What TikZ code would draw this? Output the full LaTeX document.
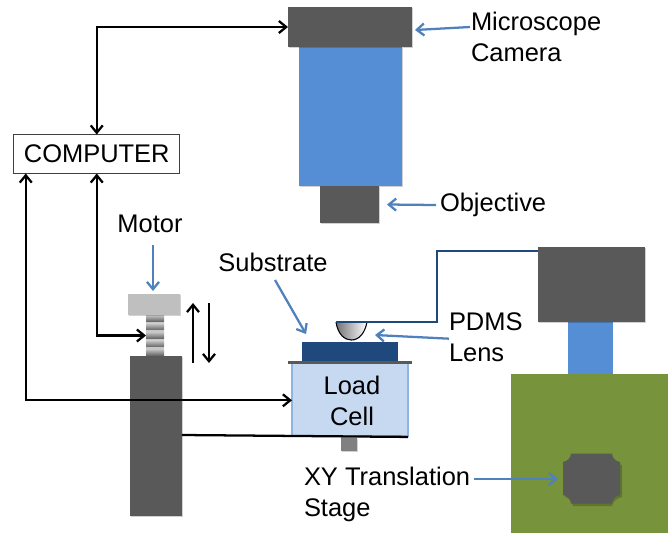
\documentclass[tikz,border=0pt]{standalone}
\usepackage{fontspec}
\setmainfont{Liberation Sans}
\usetikzlibrary{arrows.meta,shadows}
\definecolor{darkg}{HTML}{595959}
\definecolor{bluefill}{HTML}{558ED5}
\definecolor{arrowblue}{HTML}{4F81BD}
\definecolor{navy}{HTML}{1F497D}
\definecolor{cellfill}{HTML}{C6D9F1}
\definecolor{cellline}{HTML}{8EB4E3}
\definecolor{greenfill}{HTML}{77933C}
\tikzset{
  x=0.75pt,y=-0.75pt,
  softsh/.style={general shadow={fill=black,opacity=.18,shadow xshift=.8pt,shadow yshift=-.8pt}},
  part/.style={inner sep=0pt,outer sep=0pt,rectangle},
  lab/.style={inner sep=0pt,outer sep=0pt,font=\fontsize{19.1}{23}\selectfont,align=left,text=black},
  blk/.style={line width=1.7pt,draw=black,{Straight Barb[length=5.5pt,width=9pt]}-{Straight Barb[length=5.5pt,width=9pt]}},
  blkone/.style={line width=1.7pt,draw=black,-{Straight Barb[length=5.5pt,width=9pt]}},
  blu/.style={line width=1.7pt,draw=arrowblue,-{Straight Barb[length=5.5pt,width=9pt]}},
}
\newcommand{\rnode}[6]{\node[part,minimum width={(#4-#2)*0.75pt},minimum height={(#5-#3)*0.75pt},#6] (#1) at ({(#2+#4)/2},{(#3+#5)/2}) {};}
\begin{document}
\begin{tikzpicture}
\useasboundingbox (0,0) rectangle (668,533);
% top microscope
\rnode{tube}{299}{47}{402}{186}{fill=bluefill,softsh}
\rnode{cam}{288}{7}{412}{47}{fill=darkg,softsh}
\rnode{obj}{320}{186}{379}{223}{fill=darkg,softsh}
% computer
\node[part,draw=black!75,line width=.8pt,fill=white,minimum width={166*0.75pt},minimum height={39*0.75pt},font=\fontsize{19.1}{23}\selectfont] (computer) at (96.75,154) {\raisebox{-2pt}{COMPUTER}};
% motor
\rnode{screw}{146}{315}{164}{356}{fill=black!22}
\foreach \yy in {315,323.5,332,340.5,349}{
  \shade[top color=black!22,bottom color=black!58] (146,\yy) rectangle (164,\yy+6);
}
\rnode{head}{128}{294}{180}{315}{fill=black!25,softsh}
\rnode{post}{130}{356}{182}{516}{fill=darkg,softsh}
% right side
\rnode{rneck}{568}{322}{613}{374}{fill=bluefill}
\rnode{rblock}{538}{247}{645}{322}{fill=darkg,softsh}
\rnode{stage}{511}{374}{668}{533}{fill=greenfill}
\node[part,minimum width={57*0.75pt},minimum height={50*0.75pt}] (octa) at (591.5,478.5) {};
\fill[black,opacity=.2] (573,456) -- (612,456) .. controls (613,461) and (617,464) .. (622,465) -- (622,497) .. controls (617,498) and (613,501) .. (612,506) -- (573,506) .. controls (572,501) and (569,498) .. (565,497) -- (565,465) .. controls (569,464) and (572,461) .. (573,456) -- cycle;
\fill[darkg] (571,453.5) -- (612,453.5) .. controls (612.5,458) and (615,461) .. (620,462) -- (620,495) .. controls (615,496) and (612.5,499) .. (612,503.5) -- (571,503.5) .. controls (570.5,499) and (568,496) .. (563,495) -- (563,462) .. controls (568,461) and (570.5,458) .. (571,453.5) -- cycle;
% load cell
\rnode{cell}{292}{363}{408}{436}{fill=cellfill,draw=cellline,line width=1pt}
\node[lab,align=center] (celltext) at (352,401) {Load\\Cell};
\rnode{plate}{288}{361}{412}{364}{fill=darkg}
\rnode{sub}{302}{342}{398}{361}{fill=navy}
\rnode{foot}{341}{438}{357}{451}{fill=black!50,softsh}
\rnode{lens}{336}{322}{367}{340}{}
\draw[black,line width=.8pt,left color=black!55,right color=white] (lens.north west) .. controls (338,335) and (345,340) .. (lens.south) .. controls (359,340) and (365,333) .. (lens.north east);
% lens cable
\draw[navy,line width=1.6pt] (lens.north west) -- ++(101,0) |- ([yshift=-3pt]rblock.north west);
% beam line
\draw[black,line width=1.7pt] ([yshift=-59.25pt]post.north east) -- ([yshift=-.7pt]cell.south east);
% black arrows
\draw[blk] (cam.west) -| (computer.north);
\draw[blk] (computer.south) |- (screw.west);
\draw[blk] ([xshift=9pt]computer.south west) |- ([yshift=-.6pt]cell.west);
\coordinate (upa) at (193,363); \coordinate (upb) at (193,303);
\coordinate (dna) at (209,303); \coordinate (dnb) at (209,363);
\draw[blkone] (upa) -- (upb);
\draw[blkone] (dna) -- (dnb);
% labels
\node[lab,anchor=north west] (lcam) at (471,12) {Microscope\\Camera};
\node[lab,anchor=west] (lobj) at (440,205) {Objective};
\node[lab,anchor=center] (lmot) at (150,224) {Motor};
\node[lab,anchor=center] (lsub) at (273,262) {Substrate};
\node[lab,anchor=north west] (lpdms) at (449,313) {PDMS\\Lens};
\node[lab,anchor=north west] (lxy) at (304,467) {XY Translation\\Stage};
% blue arrows
\coordinate (camtail) at (470,27);
\coordinate (camhead) at (415,30);
\coordinate (mtail) at (153,245);
\coordinate (mhead) at (153,291);
\coordinate (stail) at (275,280);
\coordinate (shead) at (306,334);
\draw[blu] (camtail) -- (camhead);
\draw[blu] ([xshift=-3pt]lobj.west) -- ([xshift=6pt]obj.east);
\draw[blu] (mtail) -- (mhead);
\draw[blu] (stail) -- (shead);
\draw[blu] ([yshift=-1pt]lpdms.west) -- ([xshift=6pt,yshift=-3pt]lens.east);
\coordinate (xytail) at (474,479);
\coordinate (xyhead) at (558,479);
\draw[blu] (xytail) -- (xyhead);
\end{tikzpicture}
\end{document}
